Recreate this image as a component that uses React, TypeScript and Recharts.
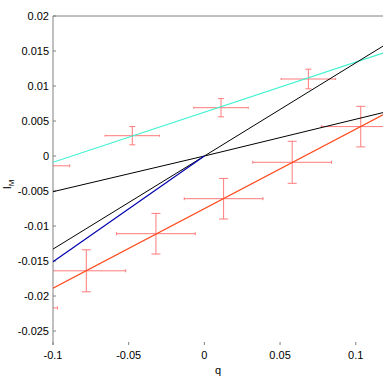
import React from 'react';
import { ScatterChart, Scatter, XAxis, YAxis, ErrorBar, usePlotArea } from 'recharts';

// axis ticks
const qTicks = [-0.1, -0.05, 0, 0.05, 0.1];
const imTicks = [-0.025, -0.02, -0.015, -0.01, -0.005, 0, 0.005, 0.01, 0.015, 0.02];

// measured points, wide error bars
const qWide = [-0.122, -0.114, -0.078, -0.032, 0.0127, 0.058, 0.1033];
const imWide = [-0.0217, -0.0014, -0.0164, -0.0111, -0.0061, -0.0009, 0.0042];
const qErrWide = [0.025, 0.025, 0.026, 0.026, 0.026, 0.026, 0.026];
const imErrWide = [0.003, 0.003, 0.003, 0.0029, 0.0029, 0.003, 0.0029];

// measured points, narrow error bars
const qNarrow = [-0.0476, 0.011, 0.0687];
const imNarrow = [0.0029, 0.0069, 0.011];
const qErrNarrow = [0.018, 0.018, 0.018];
const imErrNarrow = [0.0013, 0.0013, 0.0014];

// fitted lines
const qFit = [-0.1, 0.118];
const cyanFit = [-0.0009, 0.0147];
const orangeFit = [-0.0189, 0.0059];
const qOrigin = [-0.1, 0, 0.118];
const steepFit = [-0.0133, 0, 0.0157];
const shallowFit = [-0.0051, 0, 0.0062];
const qBlue = [-0.1, 0];
const blueFit = [-0.0151, 0];

const points = (q: number[], im: number[], eq: number[], ei: number[]) =>
  q.map((x, i) => ({ x, y: im[i], ex: eq[i], ey: ei[i] }));
const line = (q: number[], im: number[]) => q.map((x, i) => ({ x, y: im[i] }));

const wide = points(qWide, imWide, qErrWide, imErrWide);
const narrow = points(qNarrow, imNarrow, qErrNarrow, imErrNarrow);

const font = 'Liberation Sans, Arial, sans-serif';
const axisGray = '#808080';
const errColor = '#ff7b7b';
const noShape = () => <g />;

// clip region for the error bars, taken from the chart's plot area
const PlotClip = () => {
  const area = usePlotArea();
  if (!area) return null;
  return (
    <defs>
      <clipPath id="plotClip">
        <rect x={area.x} y={area.y} width={area.width} height={area.height} />
      </clipPath>
    </defs>
  );
};

const YLabel = (props: any) => {
  const { viewBox } = props;
  const cx = viewBox.x + 10.5;
  const cy = viewBox.y + viewBox.height / 2 + 4;
  return (
    <text
      transform={`translate(${cx},${cy}) rotate(-90)`}
      textAnchor="middle"
      fontFamily={font}
      fontSize={11}
      fill="#000"
    >
      <tspan>I</tspan>
      <tspan dy={3.5} fontSize={8}>
        M
      </tspan>
    </text>
  );
};

const App: React.FC = () => {
  return (
    <div style={{ position: 'absolute', left: 0, top: 0 }}>
      <style>{`.recharts-errorBar { clip-path: url(#plotClip); }`}</style>
      <ScatterChart width={391} height={378} margin={{ top: 15, right: 7, bottom: 0, left: 0 }}>
        <PlotClip />
        <XAxis
          type="number"
          dataKey="x"
          domain={[-0.1, 0.118]}
          ticks={qTicks}
          allowDataOverflow
          height={33}
          axisLine={false}
          tickLine={{ stroke: axisGray }}
          tickSize={-3}
          tickMargin={9}
          tickFormatter={(v: number) => String(v)}
          tick={{ fill: '#000', fontSize: 11, fontFamily: font }}
          label={{ value: 'q', position: 'insideBottom', offset: 4.5, fill: '#000', fontSize: 11, fontFamily: font }}
        />
        <XAxis
          xAxisId="top"
          orientation="top"
          type="number"
          domain={[-0.1, 0.118]}
          ticks={qTicks}
          allowDataOverflow
          height={1}
          axisLine={{ stroke: axisGray }}
          tickLine={{ stroke: axisGray }}
          tickSize={-3}
          tick={false}
        />
        <YAxis
          type="number"
          dataKey="y"
          domain={[-0.027, 0.02]}
          ticks={imTicks}
          allowDataOverflow
          width={53}
          axisLine={{ stroke: axisGray }}
          tickLine={{ stroke: axisGray }}
          tickSize={-3}
          tickMargin={7}
          tickFormatter={(v: number) => String(v)}
          tick={{ fill: '#000', fontSize: 11, fontFamily: font }}
          label={<YLabel />}
        />
        <YAxis
          yAxisId="right"
          orientation="right"
          type="number"
          domain={[-0.027, 0.02]}
          ticks={imTicks}
          allowDataOverflow
          width={1}
          axisLine={false}
          tickLine={{ stroke: axisGray }}
          tickSize={-3}
          tick={false}
        />

        <Scatter data={wide} shape={noShape} isAnimationActive={false} legendType="none">
          <ErrorBar dataKey="ex" direction="x" width={1.5} stroke={errColor} strokeWidth={1} isAnimationActive={false} />
          <ErrorBar dataKey="ey" direction="y" width={4.5} stroke={errColor} strokeWidth={1} isAnimationActive={false} />
        </Scatter>
        <Scatter data={narrow} shape={noShape} isAnimationActive={false} legendType="none">
          <ErrorBar dataKey="ex" direction="x" width={1} stroke={errColor} strokeWidth={1} isAnimationActive={false} />
          <ErrorBar dataKey="ey" direction="y" width={3} stroke={errColor} strokeWidth={1} isAnimationActive={false} />
        </Scatter>

        <Scatter data={line(qFit, cyanFit)} line={{ stroke: '#40f2cf', strokeWidth: 1.2 }} shape={noShape} isAnimationActive={false} legendType="none" />
        <Scatter data={line(qOrigin, steepFit)} line={{ stroke: '#000', strokeWidth: 1 }} shape={noShape} isAnimationActive={false} legendType="none" />
        <Scatter data={line(qOrigin, shallowFit)} line={{ stroke: '#000', strokeWidth: 1 }} shape={noShape} isAnimationActive={false} legendType="none" />
        <Scatter data={line(qBlue, blueFit)} line={{ stroke: '#0000b0', strokeWidth: 1.2 }} shape={noShape} isAnimationActive={false} legendType="none" />
        <Scatter data={line(qFit, orangeFit)} line={{ stroke: '#ff4a1c', strokeWidth: 1.2 }} shape={noShape} isAnimationActive={false} legendType="none" />
      </ScatterChart>
    </div>
  );
};

export default App;
